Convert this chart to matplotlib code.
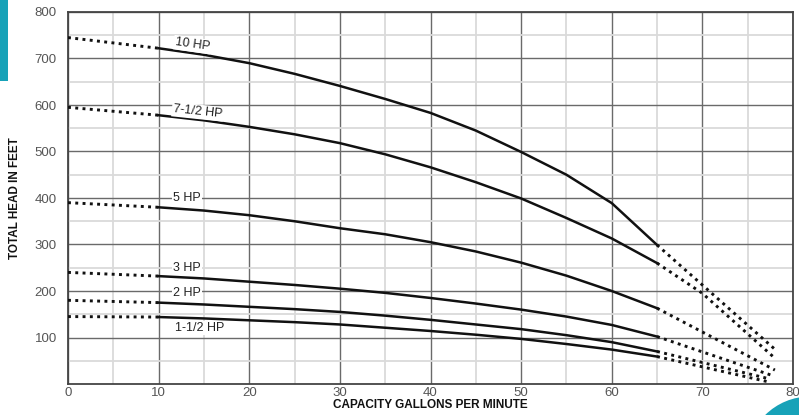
import numpy as np
import matplotlib
matplotlib.use("Agg")
import matplotlib.pyplot as plt
from matplotlib.patches import Rectangle, Circle

plt.rcParams['font.family'] = ['Liberation Sans', 'DejaVu Sans']

# pump curves: flow (gpm) vs total head (ft)
solid_x = [10, 15, 20, 25, 30, 35, 40, 45, 50, 55, 60, 65]
hp10_solid = [722, 708, 690, 667, 641, 613, 583, 545, 499, 450, 389, 299]
hp75_solid = [578, 567, 553, 537, 518, 494, 466, 434, 399, 357, 313, 260]
hp5_solid = [380, 373, 363, 350, 335, 322, 305, 285, 261, 233, 200, 163]
hp3_solid = [232, 227, 220, 213, 205, 196, 185, 173, 160, 145, 127, 102]
hp2_solid = [175, 171, 166, 161, 155, 147, 138, 128, 118, 105, 90, 70]
hp15_solid = [144, 141, 137, 133, 128, 121, 114, 106, 97, 86, 74, 59]

# dotted extensions (start at shutoff, end past 65 gpm)
start_x = [0, 10]
hp10_start = [745, 722]
hp75_start = [595, 578]
hp5_start = [390, 380]
hp3_start = [240, 232]
hp2_start = [180, 175]
hp15_start = [145, 144]

hp10_end_x = [65, 70.4, 78.1]
hp10_end = [299, 206, 73]
hp75_end_x = [65, 70, 77.8]
hp75_end = [260, 195, 59]
hp5_end_x = [65, 78]
hp5_end = [163, 30]
hp3_end_x = [65, 77.6]
hp3_end = [102, 19]
hp2_end_x = [65, 77.2]
hp2_end = [70, 12]
hp15_end_x = [65, 77.2]
hp15_end = [59, 5]

labels = ['10 HP', '7-1/2 HP', '5 HP', '3 HP', '2 HP', '1-1/2 HP']
label_x = [11.8, 11.6, 11.6, 11.6, 11.6, 11.8]
label_y = [735, 591, 401, 249, 196, 120]
label_rot = [-8, -6, 0, 0, 0, 0]

fig = plt.figure(figsize=(7.99, 4.15), dpi=100)
ax = fig.add_axes([68/799, 31/415, 725/799, 372/415])

series = [
    (hp10_start, hp10_solid, hp10_end_x, hp10_end),
    (hp75_start, hp75_solid, hp75_end_x, hp75_end),
    (hp5_start, hp5_solid, hp5_end_x, hp5_end),
    (hp3_start, hp3_solid, hp3_end_x, hp3_end),
    (hp2_start, hp2_solid, hp2_end_x, hp2_end),
    (hp15_start, hp15_solid, hp15_end_x, hp15_end),
]
for st, so, ex, en in series:
    ax.plot(solid_x, so, color='#111111', lw=1.8, zorder=3)
    ax.plot(start_x, st, color='#111111', lw=2.1, ls=(0, (1, 1.5)), zorder=3)
    ax.plot(ex, en, color='#111111', lw=2.1, ls=(0, (1, 1.5)), zorder=3)

for t, x, y, r in zip(labels, label_x, label_y, label_rot):
    ax.text(x, y, t, fontsize=9, color='#222222', rotation=r, ha='left', va='center',
            rotation_mode='anchor', zorder=4,
            bbox=dict(boxstyle='square,pad=0.1', fc='white', ec='none'))

ax.set_xlim(0, 80)
ax.set_ylim(0, 800)
ax.set_xticks(np.arange(0, 81, 10))
ax.set_xticks(np.arange(5, 80, 10), minor=True)
ax.set_yticks(np.arange(100, 801, 100))
ax.set_yticks(np.arange(50, 800, 100), minor=True)
ax.grid(which='major', color='#6a6a6a', lw=1.0, zorder=1)
ax.grid(which='minor', color='#dadada', lw=1.3, zorder=0)
ax.tick_params(which='both', length=0)
ax.tick_params(axis='y', pad=8, labelsize=9.5, labelcolor='#555555')
ax.tick_params(axis='x', pad=2, labelsize=9.5, labelcolor='#555555')
for s in ax.spines.values():
    s.set_color('#444444')
    s.set_linewidth(1.3)

lab = dict(fontsize=8.5, fontweight='bold', color='#111111')
ax.set_xlabel('CAPACITY GALLONS PER MINUTE', labelpad=0, **lab)
ax.set_ylabel('TOTAL HEAD IN FEET', labelpad=10, **lab)

# teal decorations at the edges
deco = fig.add_axes([0, 0, 1, 1], zorder=5)
deco.set_xlim(0, 799)
deco.set_ylim(415, 0)
deco.axis('off')
deco.patch.set_alpha(0)
deco.add_patch(Rectangle((0, 0), 8, 81, color='#17a2b8', lw=0))
deco.add_patch(Circle((810, 460), 63.5, color='#17a2b8', lw=0))

fig.savefig('out.png', dpi=100)
